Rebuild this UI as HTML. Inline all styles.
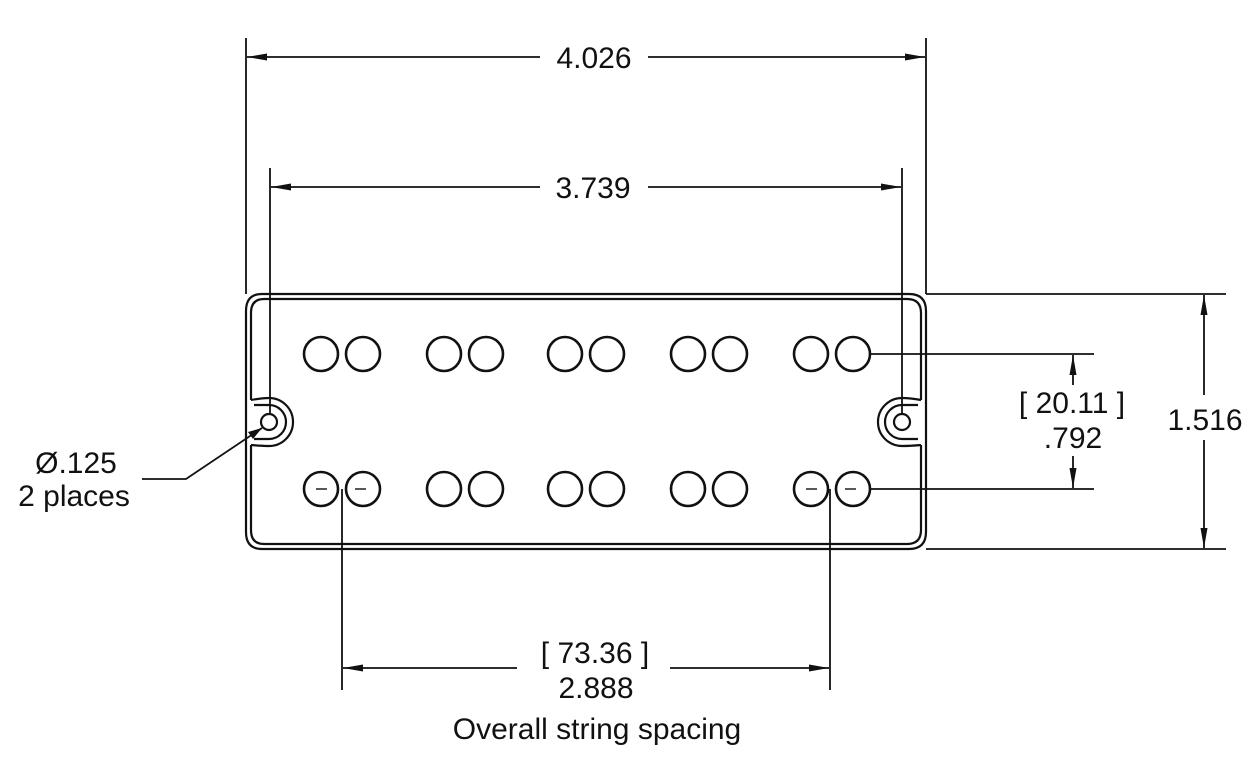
<!DOCTYPE html>
<html><head><meta charset="utf-8"><style>
html,body{margin:0;padding:0;background:#fff;}
svg{display:block;}
text{font-family:"Liberation Sans",sans-serif;font-size:30px;fill:#111;}
</style></head><body>
<svg width="1250" height="760" viewBox="0 0 1250 760" xmlns="http://www.w3.org/2000/svg">
<defs>
<marker id="a" viewBox="0 0 20 10" refX="20" refY="5" markerWidth="20" markerHeight="10" markerUnits="userSpaceOnUse" orient="auto"><path d="M0,1.5 L20,5 L0,8.5 Z" fill="#111"/></marker>
</defs>
<g stroke="#111" fill="none" stroke-width="1.8">
<line x1="246" y1="38" x2="246" y2="294"/>
<line x1="926" y1="38" x2="926" y2="294"/>
<line x1="540" y1="57" x2="247" y2="57" marker-end="url(#a)"/>
<line x1="648" y1="57" x2="925" y2="57" marker-end="url(#a)"/>
<line x1="270" y1="168" x2="270" y2="414"/>
<line x1="902" y1="168" x2="902" y2="414"/>
<line x1="540" y1="187" x2="271" y2="187" marker-end="url(#a)"/>
<line x1="648" y1="187" x2="901" y2="187" marker-end="url(#a)"/>
<line x1="926" y1="294" x2="1226" y2="294"/>
<line x1="926" y1="549" x2="1226" y2="549"/>
<line x1="1204" y1="395" x2="1204" y2="295" marker-end="url(#a)"/>
<line x1="1204" y1="440" x2="1204" y2="548" marker-end="url(#a)"/>
<line x1="870" y1="354" x2="1094" y2="354"/>
<line x1="870" y1="489" x2="1094" y2="489"/>
<line x1="1073" y1="385" x2="1073" y2="355" marker-end="url(#a)"/>
<line x1="1073" y1="456" x2="1073" y2="488" marker-end="url(#a)"/>
<line x1="342" y1="489" x2="342" y2="690"/>
<line x1="830" y1="489" x2="830" y2="690"/>
<line x1="517" y1="668" x2="343" y2="668" marker-end="url(#a)"/>
<line x1="670" y1="668" x2="829" y2="668" marker-end="url(#a)"/>
<polyline points="142,479 186,479 262,428"/>
</g>
<path d="M248,432 L262,428 L253,439 Z" fill="#111"/>
<g stroke="#111" fill="none" stroke-width="2.2">
<path d="M262,294 H909 Q926,294 926,311 V532 Q926,549 909,549 H262 Q246,549 246,532 V311 Q246,294 262,294 Z"/>
<path d="M264,299 H907 Q921,299 921,313 V400 M921,445 V530 Q921,544 907,544 H264 Q251,544 251,530 V445 M251,400 V313 Q251,299 264,299"/>
<path d="M251,400 Q262,398 269,398 A24,24 0 0 1 269,446 Q262,446 251,445"/>
<path d="M254,405 L269,405 A17,17 0 0 1 269,439 L254,439"/>
<path d="M921,400 Q910,398 902,398 A24,24 0 0 0 902,446 Q910,446 921,445"/>
<path d="M918,405 L902,405 A17,17 0 0 0 902,439 L918,439"/>
<circle cx="269" cy="422" r="8"/>
<circle cx="902" cy="422" r="8"/>
<g stroke-width="2.6">
<circle cx="321" cy="354" r="17"/><circle cx="363" cy="354" r="17"/>
<circle cx="444" cy="354" r="17"/><circle cx="486" cy="354" r="17"/>
<circle cx="565" cy="354" r="17"/><circle cx="607" cy="354" r="17"/>
<circle cx="688" cy="354" r="17"/><circle cx="730" cy="354" r="17"/>
<circle cx="811" cy="354" r="17"/><circle cx="853" cy="354" r="17"/>
<circle cx="321" cy="489" r="17"/><circle cx="363" cy="489" r="17"/>
<circle cx="444" cy="489" r="17"/><circle cx="486" cy="489" r="17"/>
<circle cx="565" cy="489" r="17"/><circle cx="607" cy="489" r="17"/>
<circle cx="688" cy="489" r="17"/><circle cx="730" cy="489" r="17"/>
<circle cx="811" cy="489" r="17"/><circle cx="853" cy="489" r="17"/>
</g>
<g stroke-width="1.4">
<line x1="316" y1="489" x2="327" y2="489"/><line x1="355" y1="489" x2="366" y2="489"/>
<line x1="806" y1="489" x2="817" y2="489"/><line x1="845" y1="489" x2="856" y2="489"/>
</g>
</g>
<g text-anchor="middle">
<text x="594" y="68">4.026</text>
<text x="593" y="198">3.739</text>
<text x="1072" y="413">[ 20.11 ]</text>
<text x="1073" y="448">.792</text>
<text x="1205" y="430">1.516</text>
<text x="76" y="473">Ø.125</text>
<text x="74" y="506">2 places</text>
<text x="595" y="663">[ 73.36 ]</text>
<text x="596" y="698">2.888</text>
<text x="597" y="739">Overall string spacing</text>
</g>
</svg>
</body></html>
